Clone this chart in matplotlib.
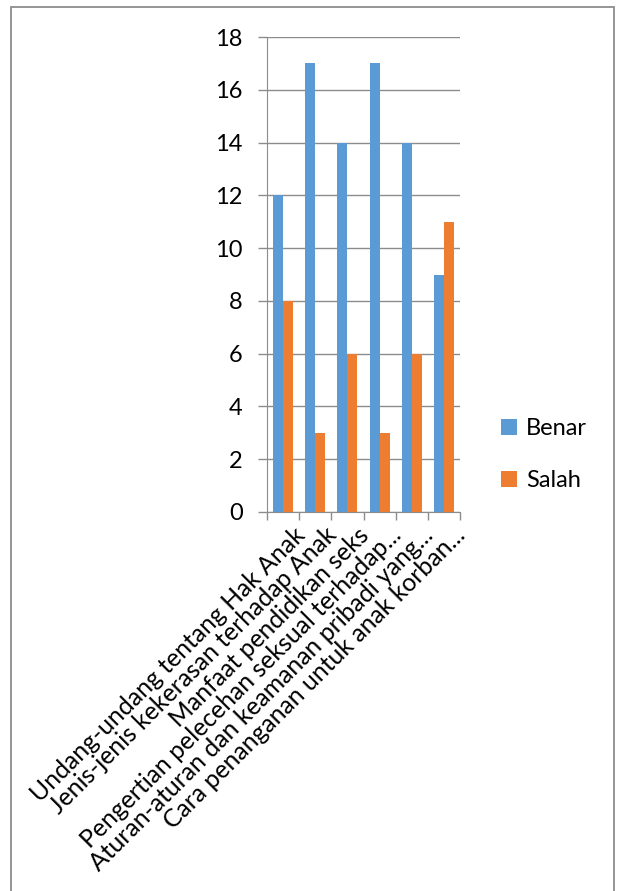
import numpy as np
import matplotlib.pyplot as plt
from matplotlib.patches import Rectangle

kategori = ["Undang-undang tentang Hak Anak",
            "Jenis-jenis kekerasan terhadap Anak",
            "Manfaat pendidikan seks",
            "Pengertian pelecehan seksual terhadap...",
            "Aturan-aturan dan keamanan pribadi yang...",
            "Cara penanganan untuk anak korban..."]
benar = [12, 17, 14, 17, 14, 9]
salah = [8, 3, 6, 3, 6, 11]
yticks = [0, 2, 4, 6, 8, 10, 12, 14, 16, 18]

plt.rcParams['font.family'] = ['Lato', 'DejaVu Sans']
fs = 17

W, H = 617, 891
fig = plt.figure(figsize=(W / 100, H / 100), dpi=100)
ax = fig.add_axes([267 / W, 1 - 512 / H, (460 - 267) / W, (512 - 37) / H])

# outer chart border (bottom edge is cut off in the reference)
fig.patches.append(Rectangle((11 / W, -0.01), (614 - 11) / W, 1 - 7 / H + 0.01,
                             transform=fig.transFigure, fill=False,
                             edgecolor='#8c8c8c', linewidth=1.3))

x = np.arange(len(kategori))
w = 0.31
ax.bar(x - w / 2, benar, w, color='#5b9bd5', label='Benar', zorder=3)
ax.bar(x + w / 2, salah, w, color='#ed7d31', label='Salah', zorder=3)

ax.set_xlim(-0.5, len(kategori) - 0.5)
ax.set_ylim(0, 18)
ax.set_yticks(yticks)
ax.yaxis.grid(True, color='#8c8c8c', linewidth=1.0, zorder=0)
ax.tick_params(axis='y', length=6.5, width=1.0, color='#8c8c8c', pad=11, labelsize=fs)

ax.set_xticks(np.arange(len(kategori) + 1) - 0.5)
ax.set_xticklabels([])
ax.tick_params(axis='x', length=6, width=1.0, color='#8c8c8c')
for i, lab in enumerate(kategori):
    ax.annotate(lab, xy=(i, 0), xycoords=('data', 'axes fraction'),
                xytext=(7, -8), textcoords='offset points',
                rotation=45, ha='right', va='top', rotation_mode='anchor',
                fontsize=17.8)

for s in ['top', 'right']:
    ax.spines[s].set_visible(False)
ax.spines['left'].set_color('#8c8c8c')
ax.spines['bottom'].set_color('#8c8c8c')

leg = fig.legend(loc='upper left', bbox_to_anchor=(480 / W, 1 - 397 / H),
                 frameon=False, fontsize=fs, handlelength=0.65, handleheight=0.65,
                 labelspacing=1.3, handletextpad=0.4)

fig.savefig('out.png', dpi=100)
